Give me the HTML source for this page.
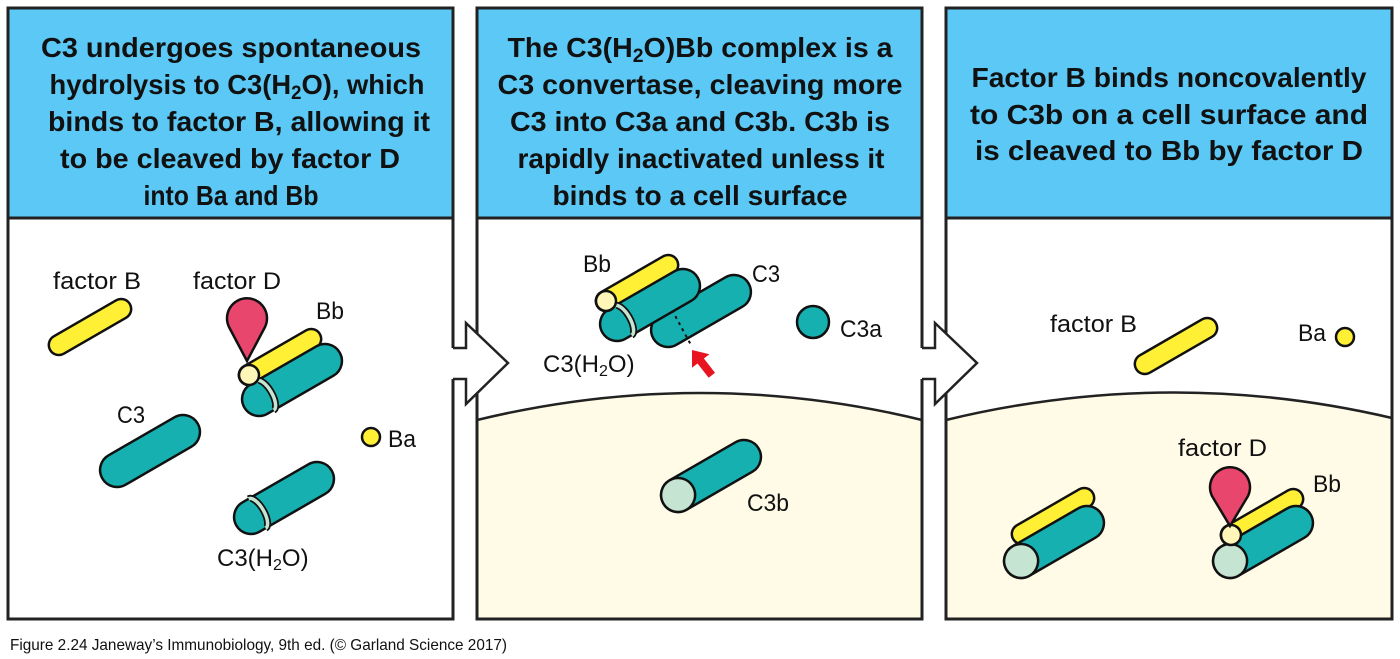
<!DOCTYPE html>
<html><head><meta charset="utf-8"><style>
html,body{margin:0;padding:0;background:#fff;width:1400px;height:659px;overflow:hidden}
svg{display:block}
.h{font-family:"Liberation Sans",sans-serif;font-weight:bold;font-size:28px;fill:#111}
.l{font-family:"Liberation Sans",sans-serif;font-size:24px;fill:#111}
.teal{fill:#17b0b0;stroke:#111;stroke-width:2.5}
.yel{fill:#fff036;stroke:#111;stroke-width:2.5}
.face{fill:#c6e4d2;stroke:#111;stroke-width:2.5}
.pale{fill:#fff6b8;stroke:#111;stroke-width:2.5}
.pink{fill:#e8466c;stroke:#111;stroke-width:2.5}
</style></head><body>
<svg width="1400" height="659" viewBox="0 0 1400 659" xmlns="http://www.w3.org/2000/svg">
<defs>
<g id="tc"><rect class="teal" x="-55" y="-17" width="110" height="34" rx="17"/></g>
<g id="band"><path d="M-31 -17 A7 17 0 0 1 -31 17" fill="none" stroke="#111" stroke-width="7"/><path d="M-31 -17 A7 17 0 0 1 -31 17" fill="none" stroke="#c6e4d2" stroke-width="3.5"/></g>
<g id="yr"><rect class="yel" x="-46" y="-10" width="92" height="20" rx="10"/></g>
</defs>
<!-- panels -->
<rect x="8" y="8" width="445" height="611" fill="#fff" stroke="#222" stroke-width="3"/>
<rect x="8" y="8" width="445" height="210" fill="#5bc8f5" stroke="#222" stroke-width="3"/>
<rect x="477" y="8" width="445" height="611" fill="#fff" stroke="#222" stroke-width="3"/>
<path d="M477 420 Q700 366 922 420 L922 619 L477 619 Z" fill="#fffbe6" stroke="#222" stroke-width="2.5"/>
<rect x="477" y="8" width="445" height="611" fill="none" stroke="#222" stroke-width="3"/>
<rect x="477" y="8" width="445" height="210" fill="#5bc8f5" stroke="#222" stroke-width="3"/>
<rect x="946" y="8" width="446" height="611" fill="#fff" stroke="#222" stroke-width="3"/>
<path d="M946 420 Q1170 366 1392 418 L1392 619 L946 619 Z" fill="#fffbe6" stroke="#222" stroke-width="2.5"/>
<rect x="946" y="8" width="446" height="611" fill="none" stroke="#222" stroke-width="3"/>
<rect x="946" y="8" width="446" height="210" fill="#5bc8f5" stroke="#222" stroke-width="3"/>

<!-- arrows between panels -->
<g>
<rect x="451" y="348" width="15" height="31" fill="#fff"/>
<polygon points="452,348 466,348 466,323 508,363 466,404 466,379 452,379" fill="#fff"/>
<path d="M453 348 L466 348 L466 323 L508 363 L466 404 L466 379 L453 379" fill="none" stroke="#222" stroke-width="2.5"/>
</g>
<g transform="translate(469,0)">
<rect x="451" y="348" width="15" height="31" fill="#fff"/>
<polygon points="452,348 466,348 466,323 508,363 466,404 466,379 452,379" fill="#fff"/>
<path d="M453 348 L466 348 L466 323 L508 363 L466 404 L466 379 L453 379" fill="none" stroke="#222" stroke-width="2.5"/>
</g>

<!-- header texts -->
<g class="h" text-anchor="middle">
<text x="231" y="57" textLength="380" lengthAdjust="spacingAndGlyphs">C3 undergoes spontaneous</text>
<text x="237" y="94" textLength="375" lengthAdjust="spacingAndGlyphs">hydrolysis to C3(H<tspan font-size="19" dy="5">2</tspan><tspan dy="-5">O), which</tspan></text>
<text x="239" y="131" textLength="382" lengthAdjust="spacingAndGlyphs">binds to factor B, allowing it</text>
<text x="230" y="168" textLength="340" lengthAdjust="spacingAndGlyphs">to be cleaved by factor D</text>
<text x="231" y="205" textLength="175" lengthAdjust="spacingAndGlyphs">into Ba and Bb</text>

<text x="700" y="57" textLength="385" lengthAdjust="spacingAndGlyphs">The C3(H<tspan font-size="19" dy="5">2</tspan><tspan dy="-5">O)Bb complex is a</tspan></text>
<text x="700" y="94" textLength="405" lengthAdjust="spacingAndGlyphs">C3 convertase, cleaving more</text>
<text x="700" y="131" textLength="380" lengthAdjust="spacingAndGlyphs">C3 into C3a and C3b. C3b is</text>
<text x="701" y="168" textLength="367" lengthAdjust="spacingAndGlyphs">rapidly inactivated unless it</text>
<text x="700" y="205" textLength="295" lengthAdjust="spacingAndGlyphs">binds to a cell surface</text>

<text x="1169" y="87" textLength="395" lengthAdjust="spacingAndGlyphs">Factor B binds noncovalently</text>
<text x="1169" y="124" textLength="398" lengthAdjust="spacingAndGlyphs">to C3b on a cell surface and</text>
<text x="1169" y="160" textLength="388" lengthAdjust="spacingAndGlyphs">is cleaved to Bb by factor D</text>
</g>

<!-- PANEL 1 -->
<g transform="translate(90,327) rotate(-30)"><use href="#yr"/></g>
<g transform="translate(150,451) rotate(-30)"><use href="#tc"/></g>
<g transform="translate(284,498) rotate(-30)"><use href="#tc"/><use href="#band"/></g>
<g transform="translate(280,357) rotate(-30)"><use href="#yr"/></g>
<g transform="translate(292,380) rotate(-30)"><use href="#tc"/><use href="#band"/></g>
<circle class="pale" cx="249" cy="375" r="10"/>
<path class="pink" d="M247 361 L229 327 A20 20 0 1 1 265 327 Z"/>
<circle class="yel" cx="371" cy="437" r="9"/>
<g class="l">
<text x="53" y="289" textLength="88" lengthAdjust="spacingAndGlyphs">factor B</text>
<text x="193" y="289" textLength="88" lengthAdjust="spacingAndGlyphs">factor D</text>
<text x="316" y="319" textLength="28" lengthAdjust="spacingAndGlyphs">Bb</text>
<text x="117" y="423" textLength="28" lengthAdjust="spacingAndGlyphs">C3</text>
<text x="388" y="447" textLength="28" lengthAdjust="spacingAndGlyphs">Ba</text>
<text x="217" y="566">C3(H<tspan font-size="16" dy="4">2</tspan><tspan dy="-4">O)</tspan></text>
</g>

<!-- PANEL 2 -->
<g transform="translate(701,311) rotate(-30)"><use href="#tc"/></g>
<line x1="672" y1="310" x2="691" y2="345" stroke="#111" stroke-width="2" stroke-dasharray="3,4"/>
<g transform="translate(637,283) rotate(-30)"><use href="#yr"/></g>
<g transform="translate(650,305) rotate(-30)"><use href="#tc"/><use href="#band"/></g>
<circle class="pale" cx="606" cy="301" r="10"/>
<polygon points="692,350 709.4,354.2 703.9,358.5 715,372.7 708.7,377.7 697.5,363.5 692,367.8" fill="#e8141f"/>
<circle class="teal" cx="813" cy="322" r="16"/>
<g transform="translate(711,476) rotate(-30)">
<use href="#tc"/>
<circle class="face" cx="-38" cy="0" r="17"/>
</g>
<g class="l">
<text x="583" y="272" textLength="28" lengthAdjust="spacingAndGlyphs">Bb</text>
<text x="752" y="282" textLength="28" lengthAdjust="spacingAndGlyphs">C3</text>
<text x="840" y="337" textLength="42" lengthAdjust="spacingAndGlyphs">C3a</text>
<text x="543" y="372">C3(H<tspan font-size="16" dy="4">2</tspan><tspan dy="-4">O)</tspan></text>
<text x="747" y="511" textLength="42" lengthAdjust="spacingAndGlyphs">C3b</text>
</g>

<!-- PANEL 3 -->
<g transform="translate(1176,346) rotate(-30)"><use href="#yr"/></g>
<circle class="yel" cx="1345" cy="337" r="9"/>
<g transform="translate(1053,516) rotate(-30)"><use href="#yr"/></g>
<g transform="translate(1054,542) rotate(-30)">
<use href="#tc"/>
<circle class="face" cx="-38" cy="0" r="17"/>
</g>
<g transform="translate(1262,517) rotate(-30)"><use href="#yr"/></g>
<g transform="translate(1263,542) rotate(-30)">
<use href="#tc"/>
<circle class="face" cx="-38" cy="0" r="17"/>
</g>
<circle class="pale" cx="1231" cy="535" r="10"/>
<path class="pink" d="M1230 526 L1212 496 A20 20 0 1 1 1248 496 Z"/>
<g class="l">
<text x="1050" y="332" textLength="87" lengthAdjust="spacingAndGlyphs">factor B</text>
<text x="1298" y="341" textLength="28" lengthAdjust="spacingAndGlyphs">Ba</text>
<text x="1178" y="456" textLength="89" lengthAdjust="spacingAndGlyphs">factor D</text>
<text x="1313" y="492" textLength="28" lengthAdjust="spacingAndGlyphs">Bb</text>
</g>

<!-- footer -->
<text x="10" y="650" font-family="Liberation Sans, sans-serif" font-size="16" fill="#111" textLength="497" lengthAdjust="spacingAndGlyphs">Figure 2.24  Janeway’s Immunobiology, 9th ed. (© Garland Science 2017)</text>
</svg>
</body></html>
